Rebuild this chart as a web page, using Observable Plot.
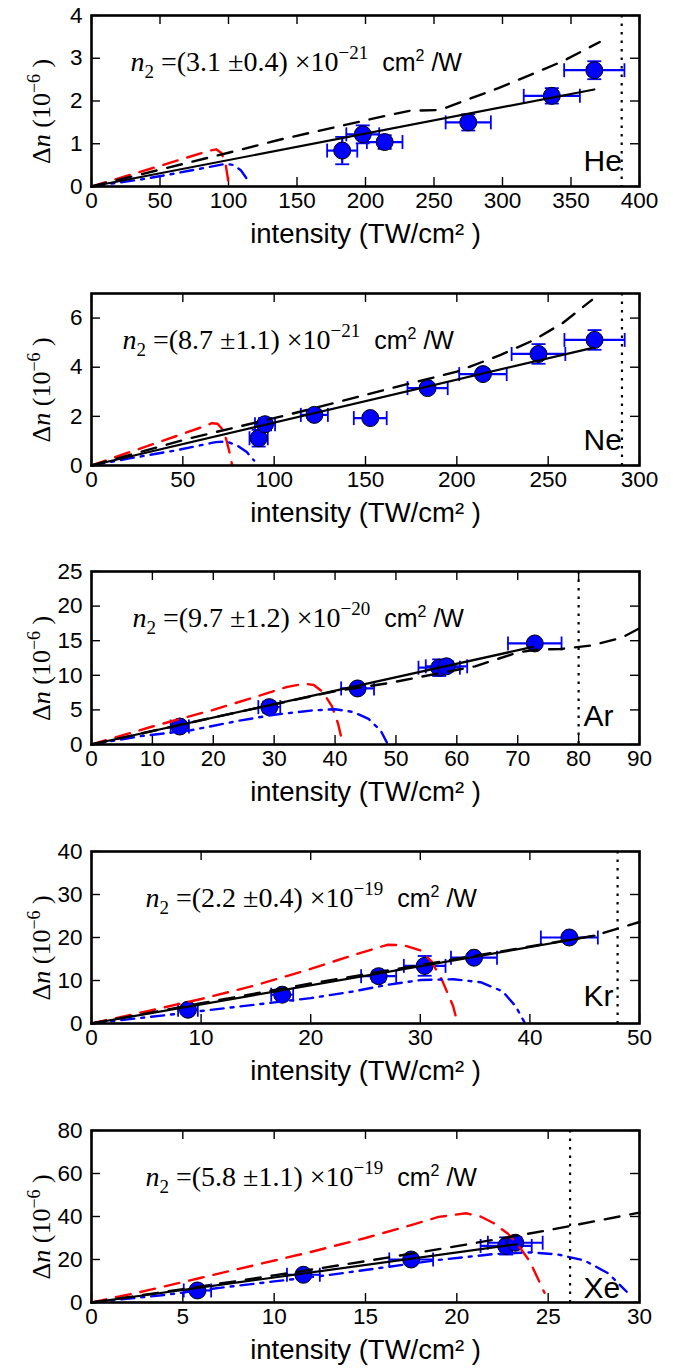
<!DOCTYPE html>
<html>
<head>
<meta charset="utf-8">
<script src="https://cdn.jsdelivr.net/npm/d3@7"></script>
<script src="https://cdn.jsdelivr.net/npm/@observablehq/plot@0.6"></script>
<style>
  html, body { margin: 0; padding: 0; background: #fff; }
  #chart svg { display: block; }
</style>
</head>
<body>
<div id="chart"></div>
<script>
// ---------------- DATA ----------------
const gases = ["He", "Ne", "Ar", "Kr", "Xe"];
const n2Mantissa = ["3.1", "8.7", "9.7", "2.2", "5.8"];
const n2Uncert = ["0.4", "1.1", "1.2", "0.4", "1.1"];
const n2Exponent = ["−21", "−21", "−20", "−19", "−19"];
const xMax = [400, 300, 90, 50, 30];
const yMax = [4, 7, 25, 40, 80];
const xTickLists = [
  [0, 50, 100, 150, 200, 250, 300, 350, 400],
  [0, 50, 100, 150, 200, 250, 300],
  [0, 10, 20, 30, 40, 50, 60, 70, 80, 90],
  [0, 10, 20, 30, 40, 50],
  [0, 5, 10, 15, 20, 25, 30]
];
const yTickLists = [
  [0, 1, 2, 3, 4],
  [0, 2, 4, 6],
  [0, 5, 10, 15, 20, 25],
  [0, 10, 20, 30, 40],
  [0, 20, 40, 60, 80]
];
const ionizationLimit = [387, 290.4, 80, 48, 26.2];

// measured points: intensity (TW/cm2), delta n (1e-6), and errors
const heI = [183, 198, 214, 275, 336, 367];
const heDn = [0.84, 1.22, 1.04, 1.50, 2.12, 2.72];
const heIerr = [11, 12, 13, 16.5, 20.5, 22];
const heDnErr = [0.32, 0.21, 0.16, 0.19, 0.18, 0.21];

const neI = [91.5, 95, 122, 152.6, 184, 214.3, 244.7, 275.4];
const neDn = [1.11, 1.68, 2.06, 1.93, 3.15, 3.72, 4.54, 5.11];
const neIerr = [5, 5.5, 7.4, 9, 11, 13, 14.7, 16.5];
const neDnErr = [0.34, 0.25, 0.2, 0.1, 0.15, 0.2, 0.4, 0.4];

const arI = [14.5, 29.2, 43.7, 57.1, 58.3, 72.8];
const arDn = [2.6, 5.4, 8.1, 11.1, 11.3, 14.6];
const arIerr = [1.5, 1.8, 2.7, 3.4, 3.4, 4.4];
const arDnErr = [0.4, 0.8, 0.6, 1.2, 0.8, 0.6];

const krI = [8.8, 17.4, 26.2, 30.4, 34.9, 43.6];
const krDn = [3.2, 6.7, 11.0, 13.4, 15.3, 20.0];
const krIerr = [0.9, 1.0, 1.6, 1.9, 2.1, 2.6];
const krDnErr = [0.6, 0.8, 1.3, 2.3, 0.6, 0.4];

const xeI = [5.8, 11.6, 17.5, 22.7, 23.2];
const xeDn = [5.6, 12.9, 20.0, 26.3, 27.8];
const xeIerr = [0.75, 0.9, 1.2, 1.4, 1.5];
const xeDnErr = [1.0, 1.5, 1.5, 4.0, 2.5];

// curves: [intensity, delta n]
const heFit = [[0, 0], [367, 2.27]];
const heModel = [[0, 0], [100, 0.79], [138, 1.1], [217, 1.67], [232, 1.77], [254, 1.79], [297, 2.3], [344, 2.93], [371, 3.38]];
const heRed = [[0, 0], [30, 0.29], [60, 0.58], [85, 0.83], [91, 0.87], [95, 0.78], [98, 0.5], [99.5, 0.2], [100, 0]];
const heBlue = [[0, 0], [37, 0.17], [60, 0.3], [98, 0.53], [104, 0.5], [109, 0.38], [113, 0.2]];

const neFit = [[0, 0], [275, 4.8]];
const neModel = [[0, 0], [54, 1.11], [104, 2.0], [118, 2.26], [162.7, 3.12], [200, 3.82], [224, 4.5], [242, 5.1], [258, 5.8], [274, 6.74]];
const neRed = [[0, 0], [20, 0.52], [40, 1.03], [60, 1.55], [66, 1.72], [69, 1.7], [72, 1.45], [74, 1.0], [76, 0.4], [77, 0]];
const neBlue = [[0, 0], [20, 0.28], [45, 0.6], [68, 0.95], [74, 0.98], [80, 0.8], [85, 0.55], [89, 0.2]];

const arFit = [[0, 0], [72.5, 14.1]];
const arModel = [[0, 0], [20, 3.9], [40, 7.7], [49, 8.9], [63, 11.3], [70, 13.3], [73, 13.7], [77, 13.8], [82, 14.3], [87, 15.4], [90, 16.8]];
const arRed = [[0, 0], [10, 2.6], [20, 5.0], [27, 6.9], [32, 8.3], [35, 8.8], [36.5, 8.6], [38, 7.6], [39.5, 5.5], [40.5, 3], [41.3, 0]];
const arBlue = [[0, 0], [8, 1.2], [16, 2.0], [24, 3.4], [30, 4.3], [36, 4.9], [40, 5.1], [43, 4.7], [45.5, 3.7], [47.5, 2.0], [48.5, 0.3]];

const krFit = [[0, 0], [45.9, 20.4]];
const krModel = [[0, 0], [10, 4.7], [20, 9.3], [30, 13.6], [40, 17.9], [46, 20.5], [47.4, 21.6], [48.7, 22.6], [50, 23.6]];
const krRed = [[0, 0], [5, 2.8], [10, 5.7], [15, 8.9], [20, 12.7], [24, 16.0], [27, 18.3], [28.5, 18.2], [30, 17.0], [31, 14.5], [32, 10], [33, 4], [33.4, 0]];
const krBlue = [[0, 0], [8, 2.3], [13, 3.8], [20, 5.9], [24, 7.5], [27, 9.0], [30, 10.1], [33, 10.3], [35.5, 9.6], [37.5, 7.5], [38.7, 4.0], [39.5, 0.3]];

const xeFit = [[0, 0], [23.3, 27.1]];
const xeModel = [[0, 0], [5, 6.2], [10, 12.6], [15, 19.2], [20, 26.2], [25, 33.6], [30, 41.8]];
const xeRed = [[0, 0], [3, 5.5], [6, 11.5], [9, 17.5], [12, 23.5], [15, 30], [17.5, 36], [19, 39.8], [20.5, 41.5], [21.3, 40], [22, 37], [22.8, 32], [23.5, 25], [24, 19], [24.5, 10], [24.8, 4.5]];
const xeBlue = [[0, 0], [4, 3.5], [7, 6.8], [10, 9.8], [13, 12.8], [16, 16.3], [19, 19.8], [22, 22.5], [24, 23.3], [25.5, 22.4], [27, 19.5], [28.3, 13.5], [29.3, 5]];

// ---------------- LAYOUT ----------------
const W = 673;
const mL = 91, mR = 34;
const frameTops = [15, 293, 571, 851, 1130];
const frameBottoms = [186, 465, 744, 1023, 1302];
const totalH = 1372;
const formulaDx = [39, 31, 41, 54, 54];
const gasDy = [-16, -16, -19, -18, -5];

const series = [
  {I: heI, dn: heDn, Ie: heIerr, de: heDnErr, fit: heFit, model: heModel, red: heRed, blue: heBlue},
  {I: neI, dn: neDn, Ie: neIerr, de: neDnErr, fit: neFit, model: neModel, red: neRed, blue: neBlue},
  {I: arI, dn: arDn, Ie: arIerr, de: arDnErr, fit: arFit, model: arModel, red: arRed, blue: arBlue},
  {I: krI, dn: krDn, Ie: krIerr, de: krDnErr, fit: krFit, model: krModel, red: krRed, blue: krBlue},
  {I: xeI, dn: xeDn, Ie: xeIerr, de: xeDnErr, fit: xeFit, model: xeModel, red: xeRed, blue: xeBlue}
];

const BLUE = "#0000ff", RED = "#ff0000";
const SANS = "Liberation Sans, Arial, Helvetica, sans-serif";
const SERIF = "Liberation Serif, Times New Roman, serif";

const vCap = {draw(ctx, size) { const r = Math.sqrt(size / Math.PI); ctx.moveTo(0, -r); ctx.lineTo(0, r); }};
const hCap = {draw(ctx, size) { const r = Math.sqrt(size / Math.PI); ctx.moveTo(-r, 0); ctx.lineTo(r, 0); }};

function mathify(svg, fallback, parts) {
  d3.select(svg).selectAll("text")
    .filter(function () { return this.textContent === fallback; })
    .each(function () {
      const t = d3.select(this);
      t.text(null);
      for (const p of parts) {
        const s = t.append("tspan").text(p.text);
        if (p.italic) s.attr("font-style", "italic");
        if (p.size) s.attr("font-size", p.size);
        if (p.dy) s.attr("dy", p.dy);
        if (p.family) s.attr("font-family", p.family);
      }
    });
}

const container = document.getElementById("chart");

gases.forEach((gas, i) => {
  const start = frameTops[i] - 15;
  const next = i < 4 ? frameTops[i + 1] - 15 : totalH;
  const H = next - start;
  const mT = 15;
  const plotH = frameBottoms[i] - frameTops[i];
  const mB = H - mT - plotH;
  const plotW = W - mL - mR;
  const s = series[i];
  const pts = s.I.map((x, k) => ({x, y: s.dn[k], ex: s.Ie[k], ey: s.de[k]}));
  const formulaText = `n2 =(${n2Mantissa[i]} ±${n2Uncert[i]}) ×10${n2Exponent[i]} cm2 /W`;
  const yLabelText = "Δn (10−6 )";
  const xt = xTickLists[i], yt = yTickLists[i];

  const svg = Plot.plot({
    width: W,
    height: H,
    marginLeft: mL,
    marginRight: mR,
    marginTop: mT,
    marginBottom: mB,
    style: {fontFamily: SANS, fontSize: "22px", background: "white", overflow: "visible", color: "black"},
    x: {domain: [0, xMax[i]]},
    y: {domain: [0, yMax[i]]},
    marks: [
      // inward ticks on all four sides
      Plot.tickX(xt, {x: d => d, insetTop: plotH - 9, stroke: "black", strokeWidth: 1.4}),
      Plot.tickX(xt, {x: d => d, insetBottom: plotH - 9, stroke: "black", strokeWidth: 1.4}),
      Plot.tickY(yt, {y: d => d, insetRight: plotW - 9, stroke: "black", strokeWidth: 1.4}),
      Plot.tickY(yt, {y: d => d, insetLeft: plotW - 9, stroke: "black", strokeWidth: 1.4}),
      Plot.axisX(xt, {tickSize: 0, tickPadding: 6, label: null, fontSize: 22.5, fill: "black"}),
      Plot.axisY(yt, {tickSize: 0, tickPadding: 9, label: null, fontSize: 22.5, fill: "black"}),
      // error bars
      Plot.ruleY(pts, {y: "y", x1: d => d.x - d.ex, x2: d => d.x + d.ex, stroke: BLUE, strokeWidth: 2.2}),
      Plot.ruleX(pts, {x: "x", y1: d => d.y - d.ey, y2: d => d.y + d.ey, stroke: BLUE, strokeWidth: 2.2}),
      Plot.dot(pts, {x: d => d.x - d.ex, y: "y", symbol: vCap, r: 7, fill: "none", stroke: BLUE, strokeWidth: 1.8}),
      Plot.dot(pts, {x: d => d.x + d.ex, y: "y", symbol: vCap, r: 7, fill: "none", stroke: BLUE, strokeWidth: 1.8}),
      Plot.dot(pts, {x: "x", y: d => d.y - d.ey, symbol: hCap, r: 7, fill: "none", stroke: BLUE, strokeWidth: 1.8}),
      Plot.dot(pts, {x: "x", y: d => d.y + d.ey, symbol: hCap, r: 7, fill: "none", stroke: BLUE, strokeWidth: 1.8}),
      // data points
      Plot.dot(pts, {x: "x", y: "y", r: 8.5, fill: BLUE, stroke: "black", strokeWidth: 1}),
      // model curves
      Plot.line(s.red, {x: d => d[0], y: d => d[1], stroke: RED, strokeWidth: 2.4, strokeDasharray: "15,10"}),
      Plot.line(s.blue, {x: d => d[0], y: d => d[1], stroke: BLUE, strokeWidth: 2.4, strokeDasharray: "13,7,3,7"}),
      Plot.line(s.model, {x: d => d[0], y: d => d[1], stroke: "black", strokeWidth: 2.4, strokeDasharray: "15,11"}),
      Plot.line(s.fit, {x: d => d[0], y: d => d[1], stroke: "black", strokeWidth: 2.2}),
      Plot.ruleX([ionizationLimit[i]], {x: d => d, stroke: "black", strokeWidth: 2.2, strokeDasharray: "2.5,6"}),
      // annotations
      Plot.text([formulaText], {text: d => d, frameAnchor: "top-left", dx: formulaDx[i], dy: 47, textAnchor: "start", lineAnchor: "middle", fontFamily: SERIF, fontSize: 28, fill: "black"}),
      Plot.text([gas], {text: d => d, frameAnchor: "bottom-left", dx: 492, dy: gasDy[i], textAnchor: "start", lineAnchor: "bottom", fontSize: 30, fill: "black"}),
      Plot.text(["intensity (TW/cm² )"], {text: d => d, frameAnchor: "bottom", dy: 48, lineAnchor: "middle", fontSize: 27.5, fill: "black"}),
      Plot.text([yLabelText], {text: d => d, frameAnchor: "left", dx: -50, dy: 63, rotate: -90, textAnchor: "start", lineAnchor: "middle", fontFamily: SERIF, fontSize: 26, fill: "black"}),
      Plot.frame({stroke: "black", strokeWidth: 2.6})
    ]
  });

  mathify(svg, formulaText, [
    {text: "n", italic: true},
    {text: "2", size: 19, dy: 7},
    {text: ` =(${n2Mantissa[i]} ±${n2Uncert[i]}) ×10`, dy: -7},
    {text: n2Exponent[i], size: 19, dy: -12},
    {text: "  cm", family: SANS, size: 25, dy: 12},
    {text: "2", family: SANS, size: 16, dy: -10},
    {text: " /W", family: SANS, size: 25, dy: 10}
  ]);
  mathify(svg, yLabelText, [
    {text: "Δ"},
    {text: "n", italic: true},
    {text: " (10"},
    {text: "−6", size: 18, dy: -10},
    {text: " )", dy: 10}
  ]);

  container.appendChild(svg);
});
</script>
</body>
</html>
